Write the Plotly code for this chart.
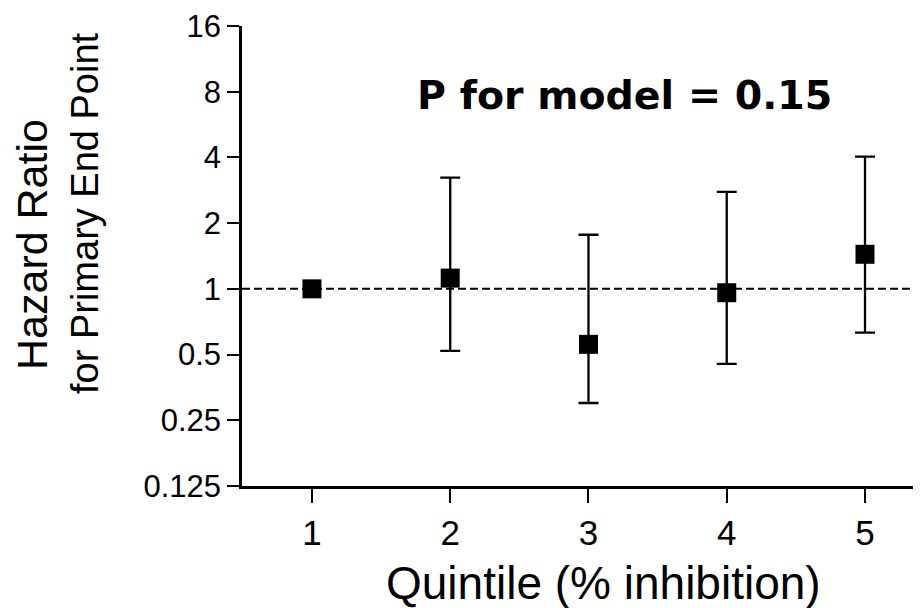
import math
import plotly.graph_objects as go

# ---- data ----
quintiles = [1, 2, 3, 4, 5]
hazard_ratio = [1.0, 1.12, 0.557, 0.96, 1.44]
ci_lower = [None, 0.52, 0.30, 0.453, 0.63]
ci_upper = [None, 3.23, 1.77, 2.78, 4.03]
reference_hr = 1.0
y_tick_vals = [0.125, 0.25, 0.5, 1, 2, 4, 8, 16]
y_tick_text = ["0.125", "0.25", "0.5", "1", "2", "4", "8", "16"]
x_range = [0.494, 5.405]
title_text = "P for model = 0.15"
x_title = "Quintile (% inhibition)"
y_title_lines = ["Hazard Ratio", "for Primary End Point"]

err_plus = [(u - h) if u is not None else None for u, h in zip(ci_upper, hazard_ratio)]
err_minus = [(h - l) if l is not None else None for l, h in zip(ci_lower, hazard_ratio)]

# page offset from the default body margin of the html page
OFF = 8
W, H = 913, 600
ML, MR, MT, MB = 234, 0, 18, 122
PW, PH = W - ML - MR, H - MT - MB

def px_x(px):
    return (px - OFF - ML) / PW

def px_y(py):
    return (H - MB - (py - OFF)) / PH

REG = "Liberation Sans, Arial, sans-serif"

fig = go.Figure()

# dashed reference line at HR = 1
fig.add_trace(go.Scatter(
    x=x_range, y=[reference_hr, reference_hr], mode="lines",
    line=dict(color="black", width=2, dash="8px,4px"),
    hoverinfo="skip", showlegend=False, cliponaxis=False))

fig.add_trace(go.Scatter(
    x=quintiles, y=hazard_ratio, mode="markers",
    marker=dict(symbol="square", size=19, color="black"),
    error_y=dict(type="data", symmetric=False, array=err_plus, arrayminus=err_minus,
                 color="black", thickness=2.3, width=10),
    showlegend=False))

fig.update_layout(
    width=W, height=H,
    margin=dict(l=ML, r=MR, t=MT, b=MB, pad=0, autoexpand=False),
    paper_bgcolor="white", plot_bgcolor="white",
    showlegend=False,
    xaxis=dict(
        range=x_range, tickvals=quintiles, ticktext=[str(q) for q in quintiles],
        showgrid=False, zeroline=False, automargin=False,
        showline=True, linecolor="black", linewidth=2.5,
        ticks="outside", ticklen=14, tickwidth=2, tickcolor="black",
        tickfont=dict(family=REG, size=35, color="black"),
    ),
    yaxis=dict(
        type="log",
        range=[math.log10(y_tick_vals[0]), math.log10(y_tick_vals[-1])],
        tickvals=y_tick_vals, ticktext=y_tick_text,
        showgrid=False, zeroline=False, automargin=False,
        showline=True, linecolor="black", linewidth=2.5,
        ticks="outside", ticklen=12, tickwidth=2, tickcolor="black",
        tickfont=dict(family=REG, size=31, color="black"),
    ),
)

# Title annotation
fig.add_annotation(
    text="<b>" + title_text + "</b>", xref="paper", yref="paper",
    x=px_x(624), y=px_y(95), xanchor="center", yanchor="middle",
    showarrow=False, font=dict(family="DejaVu Sans, sans-serif", size=39.5, color="black"))

# x-axis title
fig.add_annotation(
    text=x_title, xref="paper", yref="paper",
    x=px_x(603), y=px_y(583), xanchor="center", yanchor="middle",
    showarrow=False, font=dict(family=REG, size=46, color="black"))

# y-axis title, two rotated lines
fig.add_annotation(
    text=y_title_lines[0], xref="paper", yref="paper",
    x=px_x(32), y=px_y(245), xanchor="center", yanchor="middle", textangle=-90,
    showarrow=False, font=dict(family=REG, size=43, color="black"))
fig.add_annotation(
    text=y_title_lines[1], xref="paper", yref="paper",
    x=px_x(85), y=px_y(213), xanchor="center", yanchor="middle", textangle=-90,
    showarrow=False, font=dict(family=REG, size=38, color="black"))

fig.write_html("out.html")
